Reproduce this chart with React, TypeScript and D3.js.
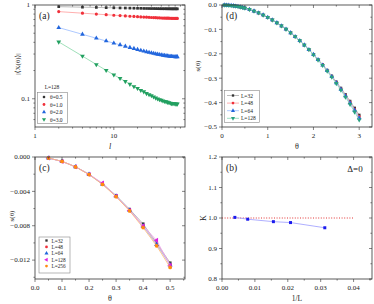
import React from "react";
import * as d3 from "d3";

// ---------- Panel (a) data ----------
const L_DIST = [2, 4, 6, 8, 10, 12, 14, 16, 18, 20, 22, 24, 26, 28, 30, 32, 34, 36, 38, 40, 42, 44, 46, 48, 50, 52, 54, 56, 58, 60, 62, 64];
const X_TH05 = [0.960, 0.948, 0.942, 0.937, 0.933, 0.930, 0.928, 0.926, 0.924, 0.922, 0.921, 0.919, 0.918, 0.917, 0.916, 0.916, 0.915, 0.914, 0.913, 0.913, 0.912, 0.912, 0.912, 0.911, 0.911, 0.911, 0.910, 0.910, 0.910, 0.910, 0.910, 0.910];
const X_TH10 = [0.850, 0.818, 0.800, 0.788, 0.778, 0.771, 0.765, 0.759, 0.755, 0.751, 0.747, 0.744, 0.741, 0.738, 0.736, 0.734, 0.732, 0.730, 0.729, 0.727, 0.726, 0.725, 0.724, 0.723, 0.723, 0.722, 0.721, 0.721, 0.721, 0.720, 0.720, 0.720];
const X_TH20 = [0.574, 0.487, 0.442, 0.413, 0.392, 0.376, 0.363, 0.352, 0.343, 0.335, 0.328, 0.322, 0.317, 0.312, 0.308, 0.304, 0.301, 0.298, 0.295, 0.293, 0.291, 0.289, 0.287, 0.286, 0.284, 0.283, 0.282, 0.281, 0.281, 0.280, 0.280, 0.280];
const X_TH30 = [0.404, 0.285, 0.232, 0.201, 0.180, 0.165, 0.153, 0.143, 0.135, 0.129, 0.123, 0.119, 0.114, 0.111, 0.108, 0.105, 0.102, 0.100, 0.098, 0.097, 0.095, 0.094, 0.093, 0.092, 0.091, 0.090, 0.089, 0.089, 0.089, 0.088, 0.088, 0.088];
const A_LABELS = ["θ=0.5", "θ=1.0", "θ=2.0", "θ=3.0"];

// ---------- Panel (d) data ----------
const THETA_D = [0.05, 0.1, 0.15, 0.2, 0.25, 0.3, 0.35, 0.4, 0.45, 0.5, 0.6, 0.7, 0.8, 0.9, 1.0, 1.1, 1.2, 1.3, 1.4, 1.5, 1.6, 1.7, 1.8, 1.9, 2.0, 2.1, 2.2, 2.3, 2.4, 2.5, 2.6, 2.7, 2.8, 2.9, 3.0];
const D_L32 = [-0.0001, -0.0005, -0.0011, -0.0020, -0.0032, -0.0046, -0.0062, -0.0081, -0.0103, -0.0127, -0.0182, -0.0248, -0.0324, -0.0410, -0.0507, -0.0613, -0.0730, -0.0856, -0.0993, -0.1140, -0.1297, -0.1464, -0.1641, -0.1829, -0.2022, -0.2228, -0.2444, -0.2670, -0.2905, -0.3149, -0.3404, -0.3666, -0.3939, -0.4220, -0.4509];
const D_L48 = [-0.0001, -0.0005, -0.0011, -0.0020, -0.0032, -0.0046, -0.0062, -0.0081, -0.0103, -0.0127, -0.0182, -0.0248, -0.0324, -0.0410, -0.0507, -0.0613, -0.0730, -0.0856, -0.0993, -0.1140, -0.1297, -0.1464, -0.1641, -0.1829, -0.2028, -0.2236, -0.2455, -0.2684, -0.2923, -0.3172, -0.3433, -0.3703, -0.3984, -0.4276, -0.4577];
const D_L64 = [-0.0001, -0.0005, -0.0011, -0.0020, -0.0032, -0.0046, -0.0062, -0.0081, -0.0103, -0.0127, -0.0182, -0.0248, -0.0324, -0.0410, -0.0507, -0.0613, -0.0730, -0.0856, -0.0993, -0.1140, -0.1297, -0.1464, -0.1641, -0.1829, -0.2032, -0.2242, -0.2463, -0.2694, -0.2936, -0.3189, -0.3454, -0.3729, -0.4017, -0.4317, -0.4627];
const D_L128 = [-0.0001, -0.0005, -0.0011, -0.0020, -0.0032, -0.0046, -0.0062, -0.0081, -0.0103, -0.0127, -0.0182, -0.0248, -0.0324, -0.0410, -0.0507, -0.0613, -0.0730, -0.0856, -0.0993, -0.1140, -0.1297, -0.1464, -0.1641, -0.1829, -0.2039, -0.2252, -0.2475, -0.2711, -0.2957, -0.3216, -0.3489, -0.3773, -0.4071, -0.4384, -0.4709];
const D_LABELS = ["L=32", "L=48", "L=64", "L=128"];

// ---------- Panel (c) data ----------
const THETA_C = [0.05, 0.1, 0.15, 0.2, 0.25, 0.3, 0.35, 0.4, 0.45, 0.5];
const C_L32 = [-0.00013, -0.00050, -0.00113, -0.00200, -0.00312, -0.00448, -0.00608, -0.00778, -0.01000, -0.01232];
const C_L48 = [-0.00013, -0.00051, -0.00114, -0.00202, -0.00316, -0.00454, -0.00617, -0.00800, -0.01012, -0.01250];
const C_L64 = [-0.00013, -0.00051, -0.00114, -0.00203, -0.00317, -0.00456, -0.00620, -0.00806, -0.01018, -0.01258];
const C_L128 = [-0.00013, -0.00051, -0.00114, -0.00203, -0.00304, -0.00458, -0.00622, -0.00802, -0.00970, -0.01262];
const C_L256 = [-0.00012, -0.00051, -0.00115, -0.00205, -0.00320, -0.00462, -0.00628, -0.00822, -0.01034, -0.01285];
const C_LABELS = ["L=32", "L=48", "L=64", "L=128", "L=256"];

// ---------- Panel (b) data ----------
const INV_L = [0.00390625, 0.0078125, 0.015625, 0.0208333, 0.03125];
const KAPPA = [1.002, 0.996, 0.988, 0.985, 0.968];
const REF_K = 1.0;

const FONT = "'Times New Roman', 'Liberation Serif', 'DejaVu Serif', serif";
const TXT: React.CSSProperties = { fontFamily: FONT };

type Sc = (v: number) => number;

const symPath = (type: d3.SymbolType, size: number) => d3.symbol().type(type).size(size)() as string;

function Marker({ x, y, kind, color, size = 9 }: { x: number; y: number; kind: string; color: string; size?: number }) {
  let t: d3.SymbolType = d3.symbolSquare;
  let rot = 0;
  let s = size;
  if (kind === "circle") { t = d3.symbolCircle; }
  if (kind === "up") { t = d3.symbolTriangle; s = size * 1.2; }
  if (kind === "down") { t = d3.symbolTriangle; rot = 180; s = size * 1.2; }
  if (kind === "left") { t = d3.symbolTriangle; rot = -90; s = size * 1.2; }
  if (kind === "square") { s = size * 0.9; }
  return <path d={symPath(t, s)} transform={`translate(${x},${y}) rotate(${rot})`} fill={color} />;
}

function Frame({ x0, x1, y0, y1, xs, ys, xMajor, xMinor, yMajor, yMinor, xFmt, yFmt }: {
  x0: number; x1: number; y0: number; y1: number; xs: Sc; ys: Sc;
  xMajor: number[]; xMinor: number[]; yMajor: number[]; yMinor: number[];
  xFmt: (v: number) => string; yFmt: (v: number) => string;
}) {
  const M = 3, m = 1.6;
  const els: React.ReactNode[] = [];
  xMajor.forEach((v, i) => {
    const x = xs(v);
    els.push(<line key={`xm${i}`} x1={x} x2={x} y1={y1} y2={y1 + M} />);
    els.push(<line key={`xmt${i}`} x1={x} x2={x} y1={y0} y2={y0 + M} />);
    els.push(<text key={`xl${i}`} style={TXT} x={x} y={y1 + 11} textAnchor="middle" fontSize={7} stroke="none" fill="#222">{xFmt(v)}</text>);
  });
  xMinor.forEach((v, i) => {
    const x = xs(v);
    els.push(<line key={`xn${i}`} x1={x} x2={x} y1={y1} y2={y1 + m} />);
    els.push(<line key={`xnt${i}`} x1={x} x2={x} y1={y0} y2={y0 + m} />);
  });
  yMajor.forEach((v, i) => {
    const y = ys(v);
    els.push(<line key={`ym${i}`} x1={x0 - M} x2={x0} y1={y} y2={y} />);
    els.push(<line key={`ymr${i}`} x1={x1 - M} x2={x1} y1={y} y2={y} />);
    els.push(<text key={`yl${i}`} style={TXT} x={x0 - 5} y={y + 2.4} textAnchor="end" fontSize={7} stroke="none" fill="#222">{yFmt(v)}</text>);
  });
  yMinor.forEach((v, i) => {
    const y = ys(v);
    els.push(<line key={`yn${i}`} x1={x0 - m} x2={x0} y1={y} y2={y} />);
    els.push(<line key={`ynr${i}`} x1={x1 - m} x2={x1} y1={y} y2={y} />);
  });
  return (
    <g stroke="#333" strokeWidth={0.6}>
      {els}
      <rect x={x0} y={y0} width={x1 - x0} height={y1 - y0} fill="none" stroke="#333" strokeWidth={0.8} />
    </g>
  );
}

function Series({ xs, ys, xv, yv, color, lineColor, kind, size }: {
  xs: Sc; ys: Sc; xv: number[]; yv: number[]; color: string; lineColor: string; kind: string; size?: number;
}) {
  const line = d3.line<number>().x((_, i) => xs(xv[i])).y((d) => ys(d));
  return (
    <g>
      <path d={line(yv) as string} fill="none" stroke={lineColor} strokeWidth={0.8} />
      {yv.map((v, i) => <Marker key={i} x={xs(xv[i])} y={ys(v)} kind={kind} color={color} size={size} />)}
    </g>
  );
}

function T(props: any) {
  return <text style={TXT} fill="#222" {...props} />;
}

export default function App() {
  // Panel (a)
  const ax0 = 35, ax1 = 185, ay0 = 5, ay1 = 127;
  const axs = d3.scaleLog().domain([1, 80]).range([ax0, ax1]);
  const ays = d3.scaleLog().domain([0.05, 1]).range([ay1, ay0]);
  const aSeries = [X_TH05, X_TH10, X_TH20, X_TH30];
  const aColors = ["#333333", "#f0303a", "#2266dd", "#22a060"];
  const aLine = ["#aaaaaa", "#ff9a9a", "#99bbff", "#88d8a8"];
  const aKinds = ["square", "circle", "up", "down"];

  // Panel (d)
  const dx0 = 222, dx1 = 372, dy0 = 5, dy1 = 127;
  const dxs = d3.scaleLinear().domain([0, 3.28]).range([dx0, dx1]);
  const dys = d3.scaleLinear().domain([-0.5, 0]).range([dy1, dy0]);
  const dSeries = [D_L32, D_L48, D_L64, D_L128];
  const dColors = ["#333333", "#f0303a", "#2266dd", "#2aa080"];
  const dLine = ["#aaaaaa", "#ff9a9a", "#99bbff", "#88d8b8"];
  const dKinds = ["square", "circle", "up", "down"];

  // Panel (c)
  const cx0 = 35, cx1 = 185, cy0 = 157, cy1 = 279;
  const cxs = d3.scaleLinear().domain([0, 0.555]).range([cx0, cx1]);
  const cys = d3.scaleLinear().domain([-0.0142, 0]).range([cy1, cy0]);
  const cSeries = [C_L32, C_L48, C_L64, C_L128, C_L256];
  const cColors = ["#333333", "#f0303a", "#2266dd", "#e020e0", "#ff8a10"];
  const cLine = ["#aaaaaa", "#ff9a9a", "#99bbff", "#f0a0f0", "#ffb870"];
  const cKinds = ["square", "circle", "up", "left", "circle"];

  // Panel (b)
  const bx0 = 222, bx1 = 372, by0 = 157, by1 = 279;
  const bxs = d3.scaleLinear().domain([0, 0.0456]).range([bx0, bx1]);
  const bys = d3.scaleLinear().domain([0.8, 1.2]).range([by1, by0]);

  const fmt1 = d3.format(".1f");
  const fmt2 = d3.format(".2f");
  const fmt3 = (v: number) => (v === 0 ? "0.000" : d3.format(".3f")(v));

  const aMinorX = [2, 3, 4, 5, 6, 7, 8, 9, 20, 30, 40, 50, 60, 70];
  const aMinorY = [0.06, 0.07, 0.08, 0.09, 0.2, 0.3, 0.4, 0.5, 0.6, 0.7, 0.8, 0.9];

  return (
    <svg width={374} height={304} style={{ position: "absolute", left: 0, top: 0, background: "#fff", fontFamily: FONT }}>
      {/* ---------------- (a) ---------------- */}
      <g>
        {aSeries.map((s, k) => (
          <Series key={k} xs={axs} ys={ays} xv={L_DIST} yv={s} color={aColors[k]} lineColor={aLine[k]} kind={aKinds[k]} size={8} />
        ))}
        <Frame x0={ax0} x1={ax1} y0={ay0} y1={ay1} xs={axs} ys={ays}
          xMajor={[1, 10]} xMinor={aMinorX} yMajor={[0.1, 1]} yMinor={aMinorY}
          xFmt={(v) => String(v)} yFmt={(v) => String(v)} />
        <T x={39} y={19} fontSize={9.5}>(a)</T>
        <T x={110} y={149} fontSize={8} fontStyle="italic" textAnchor="middle">l</T>
        <T transform="translate(20,64) rotate(-90)" fontSize={7} textAnchor="middle">|⟨X(θ)⟩|</T>
        <T x={52} y={89} fontSize={5.5} textAnchor="middle">L=128</T>
        <rect x={37.5} y={92.5} width={30} height={31} fill="#fff" stroke="#888" strokeWidth={0.6} />
        {A_LABELS.map((lab, k) => (
          <g key={k}>
            <Marker x={44} y={97 + k * 7.5} kind={aKinds[k]} color={aColors[k]} size={6} />
            <T x={50} y={99 + k * 7.5} fontSize={5.5}>{lab}</T>
          </g>
        ))}
      </g>

      {/* ---------------- (d) ---------------- */}
      <g>
        {dSeries.map((s, k) => (
          <Series key={k} xs={dxs} ys={dys} xv={THETA_D} yv={s} color={dColors[k]} lineColor={dLine[k]} kind={dKinds[k]} size={8} />
        ))}
        <Frame x0={dx0} x1={dx1} y0={dy0} y1={dy1} xs={dxs} ys={dys}
          xMajor={[0, 1, 2, 3]} xMinor={[0.5, 1.5, 2.5]}
          yMajor={[-0.5, -0.4, -0.3, -0.2, -0.1, 0]} yMinor={[-0.45, -0.35, -0.25, -0.15, -0.05]}
          xFmt={(v) => String(v)} yFmt={fmt1} />
        <T x={226} y={19} fontSize={9.5}>(d)</T>
        <T x={297} y={149} fontSize={8} textAnchor="middle">θ</T>
        <T transform="translate(200,66) rotate(-90)" fontSize={7} textAnchor="middle">s(θ)</T>
        <rect x={224.5} y={90.5} width={35} height={32} fill="#fff" stroke="#888" strokeWidth={0.6} />
        {D_LABELS.map((lab, k) => (
          <g key={k}>
            <line x1={227} x2={239} y1={95.5 + k * 7.6} y2={95.5 + k * 7.6} stroke={dLine[k]} strokeWidth={0.8} />
            <Marker x={233} y={95.5 + k * 7.6} kind={dKinds[k]} color={dColors[k]} size={6} />
            <T x={241} y={97.5 + k * 7.6} fontSize={5.5}>{lab}</T>
          </g>
        ))}
      </g>

      {/* ---------------- (c) ---------------- */}
      <g>
        {cSeries.map((s, k) => (
          <Series key={k} xs={cxs} ys={cys} xv={THETA_C} yv={s} color={cColors[k]} lineColor={cLine[k]} kind={cKinds[k]} size={k === 4 ? 11 : 9} />
        ))}
        <Frame x0={cx0} x1={cx1} y0={cy0} y1={cy1} xs={cxs} ys={cys}
          xMajor={[0, 0.1, 0.2, 0.3, 0.4, 0.5]} xMinor={[0.05, 0.15, 0.25, 0.35, 0.45, 0.55]}
          yMajor={[-0.012, -0.008, -0.004, 0]} yMinor={[-0.014, -0.010, -0.006, -0.002]}
          xFmt={fmt1} yFmt={fmt3} />
        <T x={39} y={171} fontSize={9.5}>(c)</T>
        <T x={110} y={301} fontSize={8} textAnchor="middle">θ</T>
        <T transform="translate(14,216) rotate(-90)" fontSize={7} textAnchor="middle">s(θ)</T>
        <rect x={39} y={237} width={31} height={36} fill="#fff" stroke="#888" strokeWidth={0.6} />
        {C_LABELS.map((lab, k) => (
          <g key={k}>
            <Marker x={46.5} y={240.5 + k * 6.4} kind={cKinds[k]} color={cColors[k]} size={6} />
            <T x={51.5} y={242.5 + k * 6.4} fontSize={5.3}>{lab}</T>
          </g>
        ))}
      </g>

      {/* ---------------- (b) ---------------- */}
      <g>
        <line x1={bxs(0)} x2={bxs(0.04)} y1={bys(REF_K)} y2={bys(REF_K)} stroke="#e02020" strokeWidth={0.9} strokeDasharray="1 1.6" />
        <Series xs={bxs} ys={bys} xv={INV_L} yv={KAPPA} color="#1a1aee" lineColor="#9a9aff" kind="square" size={10} />
        <Frame x0={bx0} x1={bx1} y0={by0} y1={by1} xs={bxs} ys={bys}
          xMajor={[0, 0.01, 0.02, 0.03, 0.04]} xMinor={[0.005, 0.015, 0.025, 0.035, 0.045]}
          yMajor={[0.8, 0.9, 1.0, 1.1, 1.2]} yMinor={[0.85, 0.95, 1.05, 1.15]}
          xFmt={fmt2} yFmt={fmt1} />
        <T x={226} y={171} fontSize={9.5}>(b)</T>
        <T x={355} y={172} fontSize={9} textAnchor="middle">Δ=0</T>
        <T x={297} y={301} fontSize={7.5} textAnchor="middle">1/L</T>
        <T transform="translate(206,218) rotate(-90)" fontSize={8} textAnchor="middle">K</T>
      </g>
    </svg>
  );
}
